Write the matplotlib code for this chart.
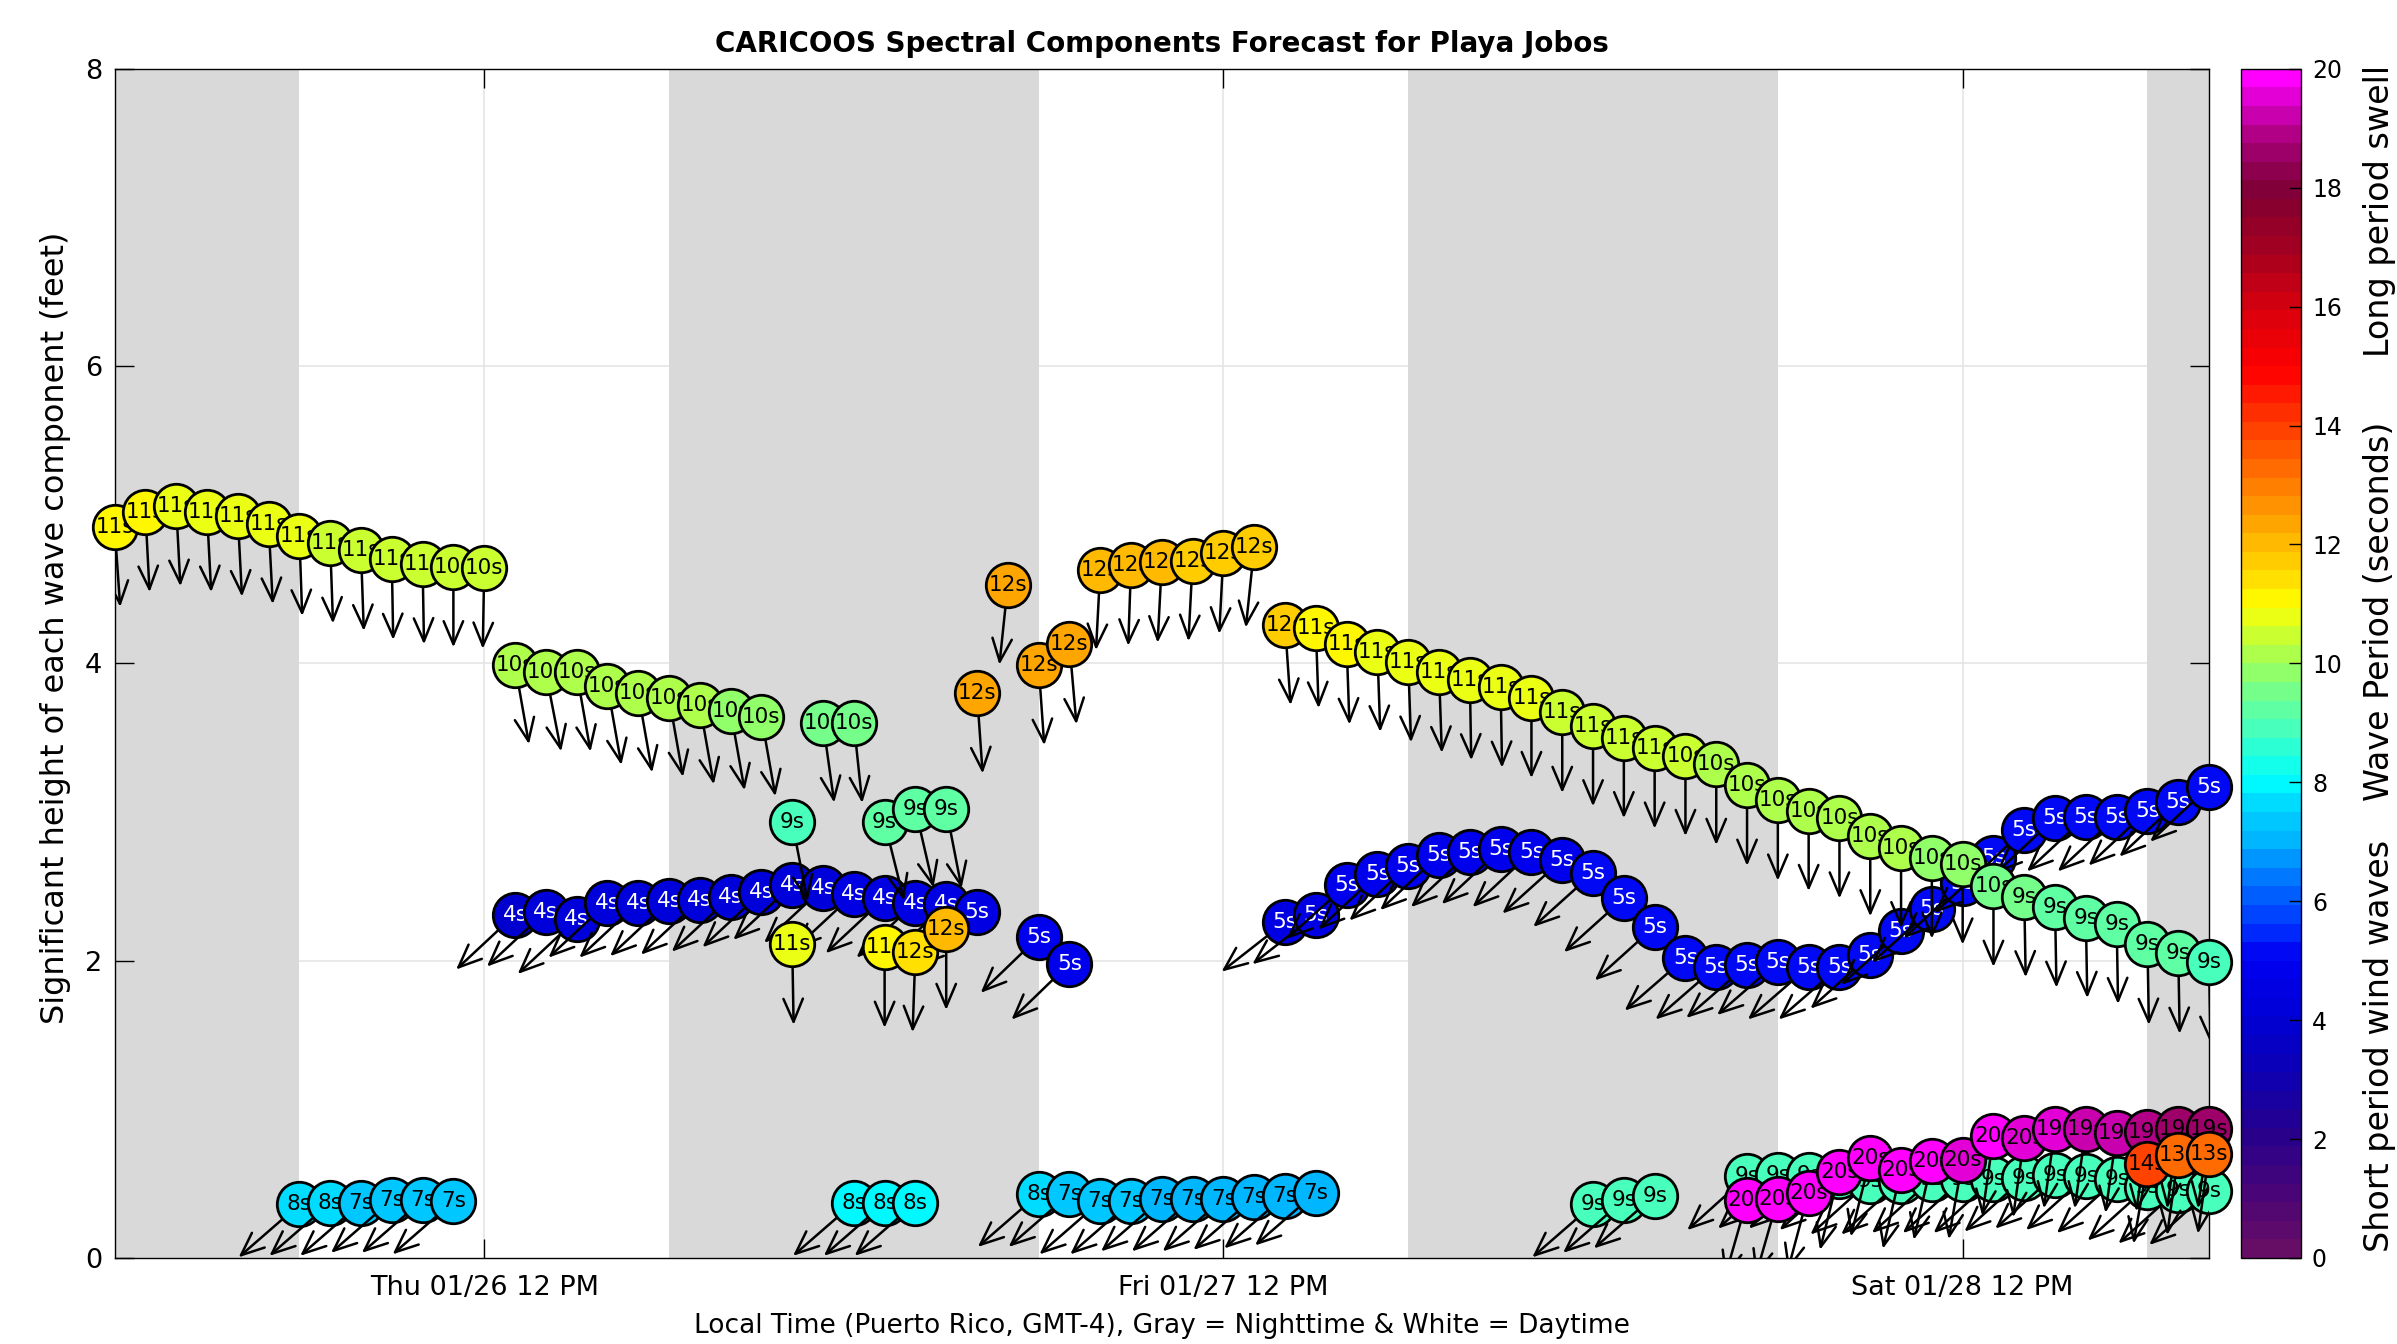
import numpy as np
import matplotlib
matplotlib.use("Agg")
import matplotlib.pyplot as plt
from matplotlib.colors import LinearSegmentedColormap, Normalize
from matplotlib.cm import ScalarMappable

# ---------------- data (hours since Thu 01/26 00:00 local time) ----------------
night_start = [-6, 18, 42, 66]
night_end = [6, 30, 54, 90]
tick_hours = [12, 36, 60]
tick_labels = ["Thu 01/26 12 PM", "Fri 01/27 12 PM", "Sat 01/28 12 PM"]

# wind waves (short period)
wind1_hour = [13, 14, 15, 16, 17, 18, 19, 20, 21, 22, 23, 24, 25, 26, 27, 28, 30, 31]
wind1_height = [2.31, 2.33, 2.28, 2.39, 2.39, 2.40, 2.41, 2.43, 2.46, 2.51, 2.49, 2.45,
                2.42, 2.39, 2.38, 2.33, 2.16, 1.98]
wind1_period = [4.0, 4.1, 4.1, 4.2, 4.2, 4.2, 4.2, 4.3, 4.3, 4.3, 4.3, 4.4, 4.4, 4.4,
                4.4, 4.6, 4.8, 4.9]
wind1_dir = [227, 227, 227, 227, 227, 227, 227, 227, 227, 227, 227, 227, 227, 227,
             227, 227, 226, 226]

wind2_hour = [38, 39, 40, 41, 42, 43, 44, 45, 46, 47, 48, 49, 50, 51, 52, 53, 54, 55,
              56, 57, 58, 59, 60, 61, 62, 63, 64, 65, 66, 67, 68]
wind2_height = [2.26, 2.31, 2.51, 2.58, 2.64, 2.71, 2.73, 2.75, 2.73, 2.68, 2.59, 2.42,
                2.23, 2.02, 1.96, 1.97, 1.99, 1.96, 1.96, 2.04, 2.20, 2.35, 2.52, 2.69,
                2.88, 2.96, 2.97, 2.97, 3.01, 3.07, 3.17]
wind2_period = [4.6, 4.6, 4.7, 4.7, 4.8, 4.8, 4.8, 4.9, 4.9, 4.9, 5.0, 5.0, 5.0, 5.0,
                5.0, 5.0, 5.0, 5.0, 5.0, 5.0, 5.1, 5.1, 5.1, 5.1, 5.2, 5.2, 5.2, 5.2,
                5.2, 5.2, 5.3]
wind2_dir = [232, 232, 228, 227, 227, 227, 227, 227, 227, 228, 228, 228, 228, 229, 229,
             229, 229, 229, 229, 228, 228, 228, 227, 227, 227, 227, 227, 227, 227, 227, 227]

# small intermediate-period components near the bottom
chop1_hour = [6, 7, 8, 9, 10, 11]
chop1_height = [0.36, 0.37, 0.37, 0.39, 0.39, 0.38]
chop1_period = [7.8, 7.6, 7.4, 7.3, 7.2, 7.2]
chop1_dir = [229, 229, 229, 229, 229, 229]

chop2_hour = [24, 25, 26]
chop2_height = [0.37, 0.37, 0.37]
chop2_period = [7.9, 7.9, 8.0]
chop2_dir = [229, 229, 229]

chop3_hour = [30, 31, 32, 33, 34, 35, 36, 37, 38, 39]
chop3_height = [0.43, 0.43, 0.38, 0.38, 0.40, 0.40, 0.40, 0.41, 0.42, 0.44]
chop3_period = [7.6, 7.3, 7.2, 7.2, 7.1, 7.1, 7.1, 7.1, 7.0, 7.0]
chop3_dir = [229, 229, 229, 229, 229, 229, 229, 229, 229, 229]

chop4_hour = [48, 49, 50]
chop4_height = [0.36, 0.39, 0.42]
chop4_period = [8.8, 8.8, 8.8]
chop4_dir = [229, 229, 229]

chop5_hour = [53, 54, 55, 56, 57, 58, 59, 60, 61, 62, 63, 64, 65, 66, 67, 68]
chop5_height = [0.55, 0.56, 0.56, 0.55, 0.52, 0.52, 0.53, 0.53, 0.53, 0.54, 0.56, 0.55,
                0.53, 0.48, 0.46, 0.45]
chop5_period = [8.8, 8.8, 8.8, 8.8, 8.8, 8.8, 8.8, 8.8, 8.8, 8.8, 8.8, 8.8, 8.9, 8.9,
                8.9, 8.9]
chop5_dir = [228, 228, 228, 228, 228, 228, 228, 228, 228, 228, 228, 228, 228, 228, 228, 228]

# swell components (longer period)
swell1_hour = [0, 1, 2, 3, 4, 5, 6, 7, 8, 9, 10, 11, 12]
swell1_height = [4.92, 5.02, 5.06, 5.02, 4.99, 4.94, 4.86, 4.81, 4.76, 4.70, 4.67, 4.65, 4.64]
swell1_period = [11.1, 11.0, 10.9, 10.9, 10.8, 10.8, 10.7, 10.6, 10.6, 10.6, 10.5, 10.4, 10.4]
swell1_dir = [176, 177, 177, 177, 177, 177, 178, 178, 178, 179, 179, 180, 181]

swell2_hour = [13, 14, 15, 16, 17, 18, 19, 20, 21]
swell2_height = [3.99, 3.94, 3.94, 3.85, 3.80, 3.77, 3.72, 3.68, 3.64]
swell2_period = [10.2, 10.2, 10.1, 10.1, 10.0, 10.0, 10.0, 9.9, 9.9]
swell2_dir = [170, 169, 170, 170, 170, 170, 170, 170, 170]

swell3_hour = [22, 23, 24, 25, 26, 27]
swell3_height = [2.93, 3.60, 3.60, 2.93, 3.02, 3.02]
swell3_period = [9.0, 9.6, 9.6, 9.1, 9.3, 9.3]
swell3_dir = [169, 172, 174, 166, 167, 169]

swell4_hour = [22, 25, 26, 27, 28, 29, 30, 31, 32, 33, 34, 35, 36, 37, 38, 39, 40, 41,
               42, 43, 44, 45, 46, 47, 48, 49, 50, 51, 52, 53, 54, 55, 56, 57, 58, 59,
               60, 61, 62, 63, 64, 65, 66, 67, 68]
swell4_height = [2.11, 2.09, 2.06, 2.21, 3.80, 4.53, 3.99, 4.13, 4.63, 4.66, 4.68, 4.69,
                 4.74, 4.78, 4.26, 4.24, 4.13, 4.08, 4.01, 3.94, 3.89, 3.84, 3.77, 3.67,
                 3.58, 3.50, 3.43, 3.38, 3.32, 3.18, 3.08, 3.01, 2.96, 2.84, 2.76, 2.69,
                 2.65, 2.50, 2.43, 2.36, 2.29, 2.25, 2.11, 2.05, 1.99]
swell4_period = [10.8, 11.1, 11.5, 11.9, 12.2, 12.3, 12.2, 12.2, 12.0, 11.9, 11.9, 11.8,
                 11.7, 11.6, 11.6, 11.2, 11.0, 10.9, 10.9, 10.8, 10.8, 10.7, 10.7, 10.6,
                 10.6, 10.5, 10.5, 10.4, 10.3, 10.3, 10.2, 10.2, 10.1, 10.0, 10.0, 9.9,
                 9.8, 9.6, 9.4, 9.3, 9.2, 9.2, 9.1, 9.1, 9.0]
swell4_dir = [179, 180, 182, 180, 176, 186, 176, 175, 183, 182, 183, 183, 183, 186, 176,
              178, 178, 178, 178, 178, 179, 179, 180, 180, 180, 180, 180, 180, 180, 180,
              180, 180, 180, 180, 180, 180, 180, 180, 179, 179, 179, 179, 179, 179, 179]

longswell_hour = [53, 54, 55, 56, 57, 58, 59, 60, 61, 62, 63, 64, 65, 66, 67, 68]
longswell_height = [0.39, 0.40, 0.44, 0.58, 0.67, 0.59, 0.65, 0.66, 0.82, 0.81, 0.87,
                    0.87, 0.84, 0.85, 0.87, 0.87]
longswell_period = [20.0, 20.0, 20.0, 20.0, 20.0, 20.0, 20.0, 19.6, 19.7, 19.6, 19.4,
                    19.3, 19.1, 18.9, 18.6, 18.6]
longswell_dir = [196, 196, 195, 194, 194, 193, 193, 190, 188, 188, 188, 188, 188, 188,
                 188, 188]

midswell_hour = [66, 67, 68]
midswell_height = [0.63, 0.69, 0.70]
midswell_period = [14.0, 13.3, 13.2]
midswell_dir = [190, 188, 188]

# colormap anchors (period in seconds -> rgb)
cmap_period = [0, 1, 2, 3, 4, 5, 5.5, 6, 6.5, 7, 7.5, 8, 8.5, 9, 9.5, 10, 10.5, 11,
               11.5, 12, 12.5, 13, 13.5, 14, 15, 16, 17, 18, 18.5, 19, 19.5, 20]
cmap_rgb = [(0.40, 0.05, 0.40), (0.28, 0.02, 0.47), (0.15, 0.0, 0.55), (0.05, 0.0, 0.70),
            (0.0, 0.0, 0.84), (0.0, 0.0, 0.95), (0.0, 0.2, 1.0), (0.0, 0.36, 1.0),
            (0.0, 0.52, 1.0), (0.0, 0.72, 1.0), (0.0, 0.82, 1.0), (0.0, 1.0, 1.0),
            (0.15, 1.0, 0.85), (0.32, 1.0, 0.70), (0.45, 1.0, 0.55), (0.62, 1.0, 0.35),
            (0.80, 1.0, 0.18), (1.0, 1.0, 0.0), (1.0, 0.86, 0.0), (1.0, 0.74, 0.0),
            (1.0, 0.62, 0.0), (1.0, 0.50, 0.0), (1.0, 0.38, 0.0), (1.0, 0.25, 0.0),
            (1.0, 0.0, 0.0), (0.85, 0.0, 0.05), (0.65, 0.0, 0.12), (0.50, 0.0, 0.20),
            (0.56, 0.0, 0.33), (0.68, 0.0, 0.50), (0.83, 0.0, 0.75), (1.0, 0.0, 1.0)]

# ---------------- figure ----------------
cmap = LinearSegmentedColormap.from_list(
    "period", [(p / 20.0, c) for p, c in zip(cmap_period, cmap_rgb)], N=64)
norm = Normalize(0, 20)

plt.rcParams["font.family"] = ["DejaVu Sans"]
fig = plt.figure(figsize=(23.97, 13.44), dpi=100)
ax = fig.add_axes([0.0478, 0.064, 0.8738, 0.8848])
ax.set_xlim(0, 68)
ax.set_ylim(0, 8)

for y in [2, 4, 6]:
    ax.axhline(y, color="#e3e3e3", lw=1.1, zorder=0.3)
for x in tick_hours:
    ax.axvline(x, color="#e3e3e3", lw=1.1, zorder=0.3)
for s, e in zip(night_start, night_end):
    ax.axvspan(s, e, facecolor="#d9d9d9", edgecolor="none", zorder=0.6)

series = [
    (wind1_hour, wind1_height, wind1_period, wind1_dir),
    (wind2_hour, wind2_height, wind2_period, wind2_dir),
    (chop1_hour, chop1_height, chop1_period, chop1_dir),
    (chop2_hour, chop2_height, chop2_period, chop2_dir),
    (chop3_hour, chop3_height, chop3_period, chop3_dir),
    (chop4_hour, chop4_height, chop4_period, chop4_dir),
    (chop5_hour, chop5_height, chop5_period, chop5_dir),
    (swell1_hour, swell1_height, swell1_period, swell1_dir),
    (swell2_hour, swell2_height, swell2_period, swell2_dir),
    (swell3_hour, swell3_height, swell3_period, swell3_dir),
    (swell4_hour, swell4_height, swell4_period, swell4_dir),
    (longswell_hour, longswell_height, longswell_period, longswell_dir),
    (midswell_hour, midswell_height, midswell_period, midswell_dir),
]

arrow_len = 58.0  # points
z = 3.0
for hrs, hts, pers, dirs in series:
    for t, h, p, d in zip(hrs, hts, pers, dirs):
        dx = arrow_len * np.sin(np.radians(d))
        dy = arrow_len * np.cos(np.radians(d))
        ann = ax.annotate(
            "", xy=(t, h), xycoords="data", xytext=(dx, dy), textcoords="offset points",
            arrowprops=dict(arrowstyle="<-,head_length=1.65,head_width=0.7",
                            lw=1.8, color="black", shrinkA=0, shrinkB=0,
                            mutation_scale=10),
            zorder=z, annotation_clip=False)
        ann.arrow_patch.set_clip_box(ax.bbox)
        ann.arrow_patch.set_clip_on(True)
        col = cmap(norm(p))
        ax.plot([t], [h], marker="o", ms=32, mfc=col, mec="black", mew=2.0,
                ls="none", zorder=z + 0.01, clip_on=False)
        lab = int(np.floor(p + 0.5))
        tc = "white" if p < 6 else "black"
        ax.text(t, h, f"{lab}s", ha="center", va="center", fontsize=15.5, color=tc,
                zorder=z + 0.02, clip_on=False)
        z += 0.05

ax.set_xticks(tick_hours)
ax.set_xticklabels(tick_labels)
ax.set_yticks([0, 2, 4, 6, 8])
ax.tick_params(direction="in", length=14, width=1, top=True, right=True,
               labelsize=19.5, pad=12)
ax.tick_params(axis="y", pad=9)
for sp in ax.spines.values():
    sp.set_linewidth(1.0)
    sp.set_zorder(2.5)
ax.set_xlabel("Local Time (Puerto Rico, GMT-4), Gray = Nighttime & White = Daytime",
              fontsize=19, labelpad=9)
ax.set_ylabel("Significant height of each wave component (feet)", fontsize=23)
ax.yaxis.set_label_coords(-0.021, 0.53)
ax.set_title("CARICOOS Spectral Components Forecast for Playa Jobos", fontsize=20,
             fontweight="bold", pad=12)

cax = fig.add_axes([0.9349, 0.064, 0.025, 0.8848])
cb = fig.colorbar(ScalarMappable(norm=norm, cmap=cmap), cax=cax)
cb.set_ticks(np.arange(0, 21, 2))
cax.tick_params(direction="in", length=9, width=1, labelsize=17, pad=8)
cb.outline.set_linewidth(1.0)

side_font = ["Liberation Sans Narrow", "DejaVu Sans"]
fig.text(0.9925, 0.843, "Long period swell", rotation=90, ha="center", va="center",
         fontsize=24, family=side_font)
fig.text(0.9925, 0.545, "Wave Period (seconds)", rotation=90, ha="center", va="center",
         fontsize=24, family=side_font)
fig.text(0.9925, 0.222, "Short period wind waves", rotation=90, ha="center", va="center",
         fontsize=24, family=side_font)

fig.savefig("out.png", dpi=100)
